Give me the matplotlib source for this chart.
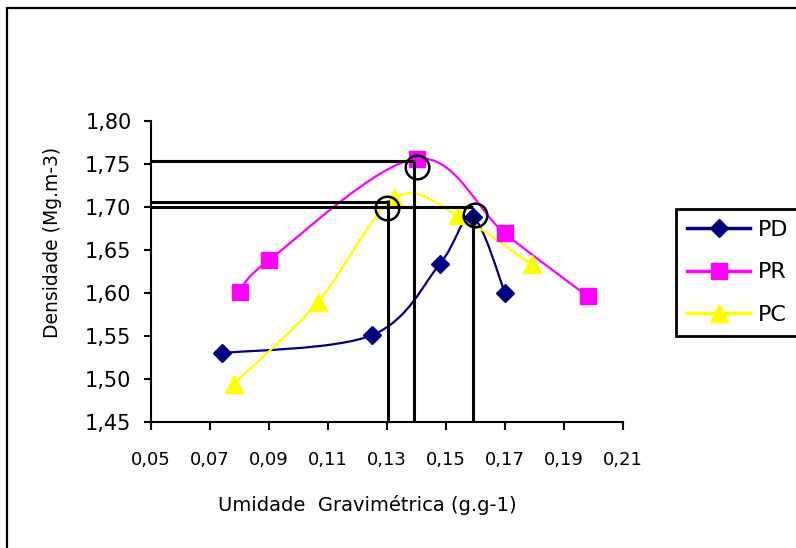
import numpy as np
import matplotlib
matplotlib.use('Agg')
import matplotlib.pyplot as plt
from matplotlib.path import Path
from matplotlib.patches import PathPatch, Rectangle
from matplotlib.lines import Line2D

# --- data ---
pd_x = [0.074, 0.125, 0.148, 0.159, 0.170]
pd_y = [1.530, 1.551, 1.634, 1.688, 1.600]

pr_x = [0.080, 0.090, 0.140, 0.170, 0.198]
pr_y = [1.601, 1.638, 1.756, 1.669, 1.596]

pc_x = [0.078, 0.1065, 0.1325, 0.154, 0.179]
pc_y = [1.494, 1.589, 1.710, 1.690, 1.633]

# optimum markers (reference lines down to the axes)
opt_x = [0.1393, 0.1305, 0.1593]
opt_h = [1.753, 1.706, 1.700]      # horizontal line level
opt_v = [1.753, 1.708, 1.690]      # top of vertical line
circ_x = [0.1400, 0.1299, 0.1598]
circ_y = [1.746, 1.699, 1.691]

x_ticks = [0.05, 0.07, 0.09, 0.11, 0.13, 0.15, 0.17, 0.19, 0.21]
y_ticks = [1.45, 1.50, 1.55, 1.60, 1.65, 1.70, 1.75, 1.80]


def smooth_path(xs, ys):
    """Excel-like smoothed line: cubic bezier through the points."""
    pts = np.column_stack([xs, ys])
    n = len(pts)
    verts = [pts[0]]
    codes = [Path.MOVETO]
    for i in range(n - 1):
        p0 = pts[i - 1] if i > 0 else pts[i]
        p1 = pts[i]
        p2 = pts[i + 1]
        p3 = pts[i + 2] if i + 2 < n else pts[i + 1]
        verts += [p1 + (p2 - p0) / 6, p2 - (p3 - p1) / 6, p2]
        codes += [Path.CURVE4] * 3
    return Path(verts, codes)


fig = plt.figure(figsize=(7.96, 5.48), dpi=100)
ax = fig.add_axes([151 / 796, 1 - 422 / 548, 472 / 796, 301.3 / 548])

series = [
    ('PD', pd_x, pd_y, '#000080', 'D', 9),
    ('PR', pr_x, pr_y, '#FF00FF', 's', 12),
    ('PC', pc_x, pc_y, '#FFFF00', '^', 13),
]
handles = []
for name, xs, ys, col, mk, ms in series:
    ax.add_patch(PathPatch(smooth_path(xs, ys), facecolor='none',
                           edgecolor=col, lw=1.6, zorder=2))
    ax.plot(xs, ys, ls='none', marker=mk, ms=ms, color=col,
            markeredgecolor=col, zorder=3)
    handles.append(Line2D([], [], color=col, lw=2.5, marker=mk, ms=ms,
                          markeredgecolor=col, label=name))

# black reference lines and circles
for xo, yh, yv in zip(opt_x, opt_h, opt_v):
    ax.plot([0.05, xo], [yh, yh], color='black', lw=2.2, zorder=4,
            solid_capstyle='butt')
    ax.plot([xo, xo], [1.45, yv], color='black', lw=2.2, zorder=4,
            solid_capstyle='butt')
ax.plot(circ_x, circ_y, ls='none', marker='o', ms=17, mfc='none',
        mec='black', mew=1.8, zorder=5)

ax.set_xlim(0.05, 0.21)
ax.set_ylim(1.45, 1.80)
ax.set_xticks(x_ticks)
ax.set_yticks(y_ticks)
ax.set_xticklabels([f'{v:.2f}'.replace('.', ',') for v in x_ticks], fontsize=13)
ax.set_yticklabels([f'{v:.2f}'.replace('.', ',') for v in y_ticks], fontsize=15)

for s in ['top', 'right']:
    ax.spines[s].set_visible(False)
for s in ['left', 'bottom']:
    ax.spines[s].set_linewidth(1.5)
    ax.spines[s].set_color('black')
ax.tick_params(axis='x', direction='out', length=6, width=1.5, pad=15)
ax.tick_params(axis='y', direction='out', length=5, width=1.5, pad=9)

ax.set_xlabel('Umidade  Gravimétrica (g.g-1)', fontsize=14, va='center')
ax.xaxis.set_label_coords((367 - 151) / 472, (422 - 505) / 301.3)
ax.set_ylabel('Densidade (Mg.m-3)', fontsize=13.5, va='center')
ax.yaxis.set_label_coords((53 - 151) / 472, (422 - 242) / 301.3)

leg = fig.legend(handles=handles, loc='upper left',
                 bbox_to_anchor=(676 / 796, 1 - 209 / 548),
                 fontsize=16, frameon=True, fancybox=False, framealpha=1,
                 handlelength=2.85, handletextpad=0.35, labelspacing=1.0,
                 borderpad=0.5, borderaxespad=0)
leg.get_frame().set_edgecolor('black')
leg.get_frame().set_linewidth(2)

# outer chart border (clipped at right and bottom)
fig.patches.append(Rectangle((6.5 / 796, -0.1), 1.2, 1 - 8.5 / 548 + 0.1,
                             transform=fig.transFigure, fill=False,
                             edgecolor='black', lw=1.6))

fig.savefig('out.png', dpi=100)
